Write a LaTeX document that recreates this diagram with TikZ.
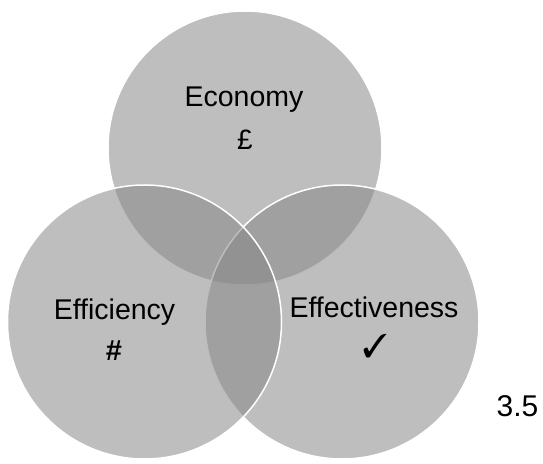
\documentclass[tikz,border=0pt]{standalone}
\usepackage{fontspec}
\usepackage{pifont}
\setmainfont{Liberation Sans}
\begin{document}
\begin{tikzpicture}[x=1pt,y=1pt,
  venn/.style={circle, minimum size=274pt, inner sep=0pt, fill={rgb,255:red,134;green,134;blue,134}, fill opacity=0.54, draw=white, line width=1.5pt},
  lbl/.style={font=\fontsize{28.5}{30}\selectfont, text=black, inner sep=0pt, anchor=base}]
\useasboundingbox (0,0) rectangle (543,463);
\node[venn] (top) at (245,315) {};
\node[venn] (right) at (342,141) {};
\node[venn] (left) at (144.5,141) {};
\node[lbl] (eco) at (244,356) {Economy};
\node[font=\fontsize{28}{30}\selectfont, inner sep=0pt] (pound) at (245,323) {£};
\node[lbl] (effi) at (114.5,143) {Efficiency};
\node[font=\fontsize{29}{31}\selectfont\bfseries, inner sep=0pt] (hash) at (114,112) {\#};
\node[lbl] (effe) at (374,145) {Effectiveness};
\node[font=\fontsize{33}{35}\selectfont, inner sep=0pt] (tick) at (375,117) {\ding{51}};
\node[lbl, font=\fontsize{30}{32}\selectfont] (num) at (517.5,46) {3.5};
\end{tikzpicture}
\end{document}
